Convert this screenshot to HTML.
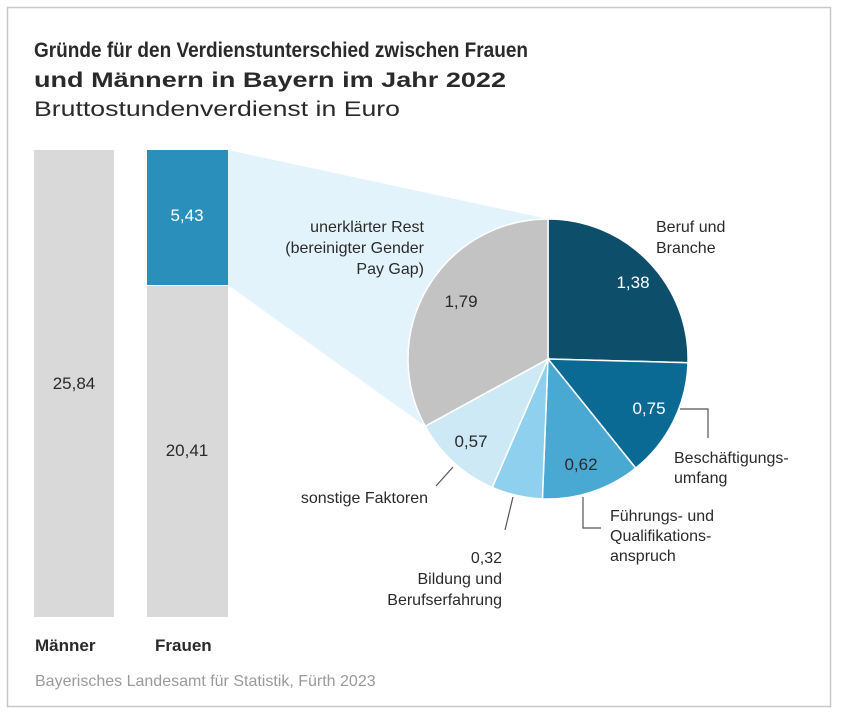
<!DOCTYPE html>
<html><head><meta charset="utf-8"><style>
html,body{margin:0;padding:0;background:#fff;}
svg{display:block;font-family:"Liberation Sans",sans-serif;}
</style></head><body>
<svg width="841" height="714" viewBox="0 0 841 714" xmlns="http://www.w3.org/2000/svg">
<rect x="7.5" y="7.5" width="823" height="699" fill="#fff" stroke="#c8c8c8" stroke-width="1.5"/>
<text x="34" y="57" font-size="21" font-weight="bold" fill="#2a2a2a" textLength="494" lengthAdjust="spacingAndGlyphs">Gründe für den Verdienstunterschied zwischen Frauen</text>
<text x="34" y="87" font-size="21" font-weight="bold" fill="#2a2a2a" textLength="472" lengthAdjust="spacingAndGlyphs">und Männern in Bayern im Jahr 2022</text>
<text x="34" y="116" font-size="21" fill="#2a2a2a" textLength="366" lengthAdjust="spacingAndGlyphs">Bruttostundenverdienst in Euro</text>
<!-- zoom trapezoid -->
<polygon points="228,150 548,219 425,426 228,285" fill="#e3f3fb"/>
<!-- bars -->
<rect x="34" y="150" width="80" height="467" fill="#d9d9d9"/>
<rect x="147" y="150" width="81" height="135" fill="#2a8fba"/>
<rect x="147" y="286" width="81" height="331" fill="#d9d9d9"/>
<text x="74" y="389" font-size="17" fill="#2a2a2a" text-anchor="middle">25,84</text>
<text x="187" y="221" font-size="17" fill="#fff" text-anchor="middle">5,43</text>
<text x="187" y="456" font-size="17" fill="#2a2a2a" text-anchor="middle">20,41</text>
<!-- pie -->
<g stroke="#fff" stroke-width="1.5">
<path d="M548,359 L548,219 A140,140 0 0 1 688,362.7 Z" fill="#0d4f6a"/>
<path d="M548,359 L688,362.7 A140,140 0 0 1 635.7,468.1 Z" fill="#0a6a93"/>
<path d="M548,359 L635.7,468.1 A140,140 0 0 1 542.4,498.9 Z" fill="#4aa9d2"/>
<path d="M548,359 L542.4,498.9 A140,140 0 0 1 492.2,487.4 Z" fill="#8fd0ee"/>
<path d="M548,359 L492.2,487.4 A140,140 0 0 1 425.2,426.2 Z" fill="#cde9f5"/>
<path d="M548,359 L425.2,426.2 A140,140 0 0 1 548,219 Z" fill="#c3c3c3"/>
</g>
<g font-size="17" text-anchor="middle">
<text x="633" y="288" fill="#fff">1,38</text>
<text x="649" y="414" fill="#fff">0,75</text>
<text x="581" y="470" fill="#2a2a2a">0,62</text>
<text x="471" y="447" fill="#2a2a2a">0,57</text>
<text x="461" y="307" fill="#2a2a2a">1,79</text>
</g>
<!-- leader lines -->
<g stroke="#555" stroke-width="1.2" fill="none">
<polyline points="680,409 708,409 708,438"/>
<polyline points="583,497 583,528 601,528"/>
<line x1="513" y1="497" x2="505" y2="530"/>
<line x1="453" y1="467" x2="436" y2="486"/>
</g>
<g font-size="16" fill="#2a2a2a">
<text x="656" y="232">Beruf und</text>
<text x="656" y="253">Branche</text>
<text x="674" y="463">Beschäftigungs-</text>
<text x="674" y="483">umfang</text>
<text x="610" y="521">Führungs- und</text>
<text x="610" y="541">Qualifikations-</text>
<text x="610" y="561">anspruch</text>
<g text-anchor="end">
<text x="502" y="563">0,32</text>
<text x="502" y="584">Bildung und</text>
<text x="502" y="605">Berufserfahrung</text>
<text x="428" y="503">sonstige Faktoren</text>
<text x="424" y="232">unerklärter Rest</text>
<text x="424" y="253">(bereinigter Gender</text>
<text x="424" y="274">Pay Gap)</text>
</g>
</g>
<text x="35" y="651" font-size="17" font-weight="bold" fill="#2a2a2a">Männer</text>
<text x="155" y="651" font-size="17" font-weight="bold" fill="#2a2a2a">Frauen</text>
<text x="35" y="686" font-size="16" fill="#9a9a9a">Bayerisches Landesamt für Statistik, Fürth 2023</text>
</svg>
</body></html>
